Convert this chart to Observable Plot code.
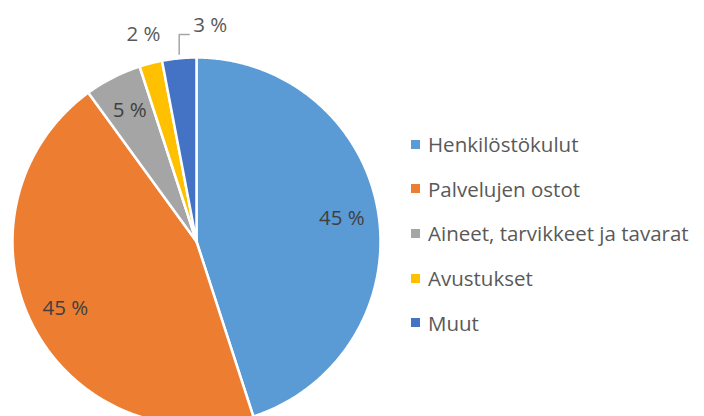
<!DOCTYPE html>
<html>
<head>
<meta charset="utf-8">
<script src="https://cdn.jsdelivr.net/npm/d3@7"></script>
<script src="https://cdn.jsdelivr.net/npm/@observablehq/plot@0.6"></script>
<style>
  html, body { margin: 0; padding: 0; background: #fff; }
  #wrap { position: relative; width: 704px; height: 416px; overflow: hidden; }
  #legend { position: absolute; left: 411px; top: 122px; font-family: "Open Sans", sans-serif; font-size: 20.5px; color: #595959; }
  .row { display: flex; align-items: center; height: 44.6px; white-space: nowrap; }
  .sw { width: 9px; height: 9px; margin-right: 8px; flex: none; }
</style>
</head>
<body>
<div id="wrap"><div id="legend"></div></div>
<script>
const categories = ["Henkilöstökulut", "Palvelujen ostot", "Aineet, tarvikkeet ja tavarat", "Avustukset", "Muut"];
const values = [45, 45, 5, 2, 3];
const colors = ["#5B9BD5", "#ED7D31", "#A5A5A5", "#FFC000", "#4472C4"];

const total = d3.sum(values);
let acc = 0;
const slices = categories.map((name, i) => {
  const a0 = acc / total * 2 * Math.PI;
  acc += values[i];
  const a1 = acc / total * 2 * Math.PI;
  return {name, value: values[i], a0, a1, mid: (a0 + a1) / 2};
});

// polygon points for each slice (unit circle, clockwise from top)
const pts = [];
for (const s of slices) {
  pts.push({name: s.name, x: 0, y: 0});
  const n = Math.max(2, Math.ceil((s.a1 - s.a0) / (Math.PI / 360)));
  for (let k = 0; k <= n; k++) {
    const a = s.a0 + (s.a1 - s.a0) * k / n;
    pts.push({name: s.name, x: Math.sin(a), y: Math.cos(a)});
  }
}

const unit = 1 / 184; // one pixel in data units (radius maps to 184px)
const inside = slices.filter(s => s.value >= 4).map(s => ({
  text: s.value + " %", x: 0.8 * Math.sin(s.mid), y: 0.8 * Math.cos(s.mid)
}));
const small = slices.filter(s => s.value < 4);
const outsideMid = [];
const outsideStart = [];
const leaders = [];
small.forEach((s, i) => {
  if (i === 0) {
    outsideMid.push({text: s.value + " %", x: 1.16 * Math.sin(s.mid), y: 1.16 * Math.cos(s.mid)});
  } else {
    const ex = Math.sin(s.mid), ey = Math.cos(s.mid);
    const elbowY = 1.125;
    leaders.push({x: ex, y: ey + 4 * unit}, {x: ex, y: elbowY}, {x: ex + 10 * unit, y: elbowY});
    outsideStart.push({text: s.value + " %", x: ex + 14 * unit, y: elbowY + 9 * unit});
  }
});

const chart = Plot.plot({
  width: 704,
  height: 416,
  style: {fontFamily: "Open Sans, sans-serif", background: "transparent"},
  x: {domain: [-1, 1], range: [12, 380], axis: null},
  y: {domain: [-1, 1], range: [425, 57], axis: null},
  color: {domain: categories, range: colors},
  marks: [
    Plot.line(pts, {x: "x", y: "y", z: "name", fill: "name", stroke: "white", strokeWidth: 2.5, curve: "linear-closed", strokeLinejoin: "round"}),
    Plot.text(inside, {x: "x", y: "y", text: "text", fontSize: 20.5, fill: "#404040"}),
    Plot.line(leaders, {x: "x", y: "y", stroke: "#A6A6A6", strokeWidth: 1.5}),
    Plot.text(outsideMid, {x: "x", y: "y", text: "text", textAnchor: "middle", fontSize: 20.5, fill: "#595959"}),
    Plot.text(outsideStart, {x: "x", y: "y", text: "text", textAnchor: "start", fontSize: 20.5, fill: "#595959"})
  ]
});
chart.style.position = "absolute";
chart.style.left = "0";
chart.style.top = "0";
document.getElementById("wrap").prepend(chart);

const legend = document.getElementById("legend");
categories.forEach((c, i) => {
  const row = document.createElement("div");
  row.className = "row";
  const sw = document.createElement("span");
  sw.className = "sw";
  sw.style.background = colors[i];
  const t = document.createElement("span");
  t.textContent = c;
  row.append(sw, t);
  legend.append(row);
});
</script>
</body>
</html>
